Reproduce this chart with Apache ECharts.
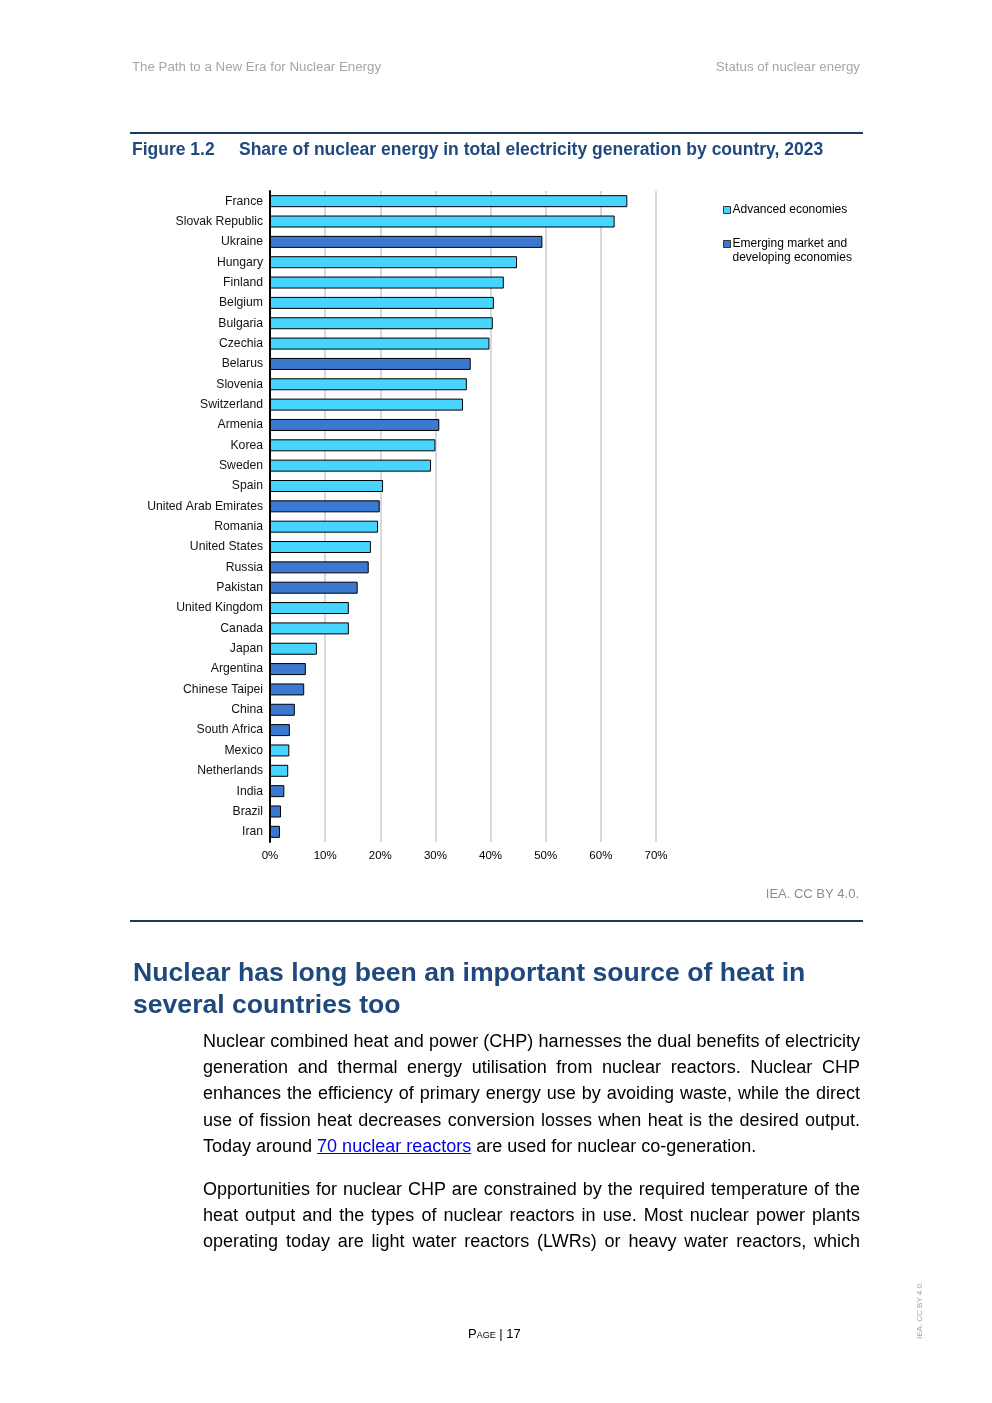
<!DOCTYPE html>
<html>
<head>
<meta charset="utf-8">
<script src="https://cdn.jsdelivr.net/npm/echarts@6/dist/echarts.min.js"></script>
<style>
  html, body { margin: 0; padding: 0; background: #fff; }
  #page { position: relative; width: 992px; height: 1403px; overflow: hidden; background: #fff; }
  #chart { position: absolute; left: 0; top: 0; width: 992px; height: 1403px; }
  .t { position: absolute; white-space: nowrap; font-family: 'Liberation Sans Narrow', 'Arial Narrow', 'Liberation Sans', Arial, sans-serif; }
  .hdr { top: 59px; font-size: 13.3px; color: #a6a6a6; }
  .rule { position: absolute; left: 130px; width: 733px; height: 2px; background: #1f3b5c; }
  .h2 { left: 133px; font-size: 26.6px; font-weight: bold; color: #1f497d; line-height: 32px; }
  .body { position: absolute; left: 203px; width: 657px; font-family: 'Liberation Sans Narrow', 'Arial Narrow', 'Liberation Sans', Arial, sans-serif; font-size: 18px; color: #000; line-height: 26.2px; }
  .body div { text-align: justify; text-align-last: justify; white-space: nowrap; height: 26.2px; }
  .body div.last { text-align-last: left; }
  .body a { color: #0000ee; text-decoration: underline; }
</style>
</head>
<body>
<div id="page">
  <div id="chart"></div>
  <div class="t hdr" style="left:132px;">The Path to a New Era for Nuclear Energy</div>
  <div class="t hdr" style="right:132px;">Status of nuclear energy</div>
  <div class="rule" style="top:132px;"></div>
  <div class="rule" style="top:920px;"></div>
  <div class="t h2" style="top:956px;">Nuclear has long been an important source of heat in</div>
  <div class="t h2" style="top:988px;">several countries too</div>
  <div class="body" style="top:1028px;">
    <div>Nuclear combined heat and power (CHP) harnesses the dual benefits of electricity</div>
    <div>generation and thermal energy utilisation from nuclear reactors. Nuclear CHP</div>
    <div>enhances the efficiency of primary energy use by avoiding waste, while the direct</div>
    <div>use of fission heat decreases conversion losses when heat is the desired output.</div>
    <div class="last">Today around <a href="#">70 nuclear reactors</a> are used for nuclear co-generation.</div>
  </div>
  <div class="body" style="top:1176px;">
    <div>Opportunities for nuclear CHP are constrained by the required temperature of the</div>
    <div>heat output and the types of nuclear reactors in use. Most nuclear power plants</div>
    <div>operating today are light water reactors (LWRs) or heavy water reactors, which</div>
  </div>
  <div class="t" style="left:468px; top:1326px; font-family:'Liberation Sans', Arial, sans-serif; font-size:13px; color:#000; font-variant: small-caps;">Page | 17</div>
  <div class="t" style="left:915px; top:1339px; font-family:'Liberation Sans', Arial, sans-serif; font-size:8px; color:#a0a0a0; transform-origin: 0 0; transform: rotate(-90deg);">IEA. CC BY 4.0.</div>
</div>
<script>
// ---- Data ----
const categories = ['France','Slovak Republic','Ukraine','Hungary','Finland','Belgium','Bulgaria','Czechia','Belarus','Slovenia','Switzerland','Armenia','Korea','Sweden','Spain','United Arab Emirates','Romania','United States','Russia','Pakistan','United Kingdom','Canada','Japan','Argentina','Chinese Taipei','China','South Africa','Mexico','Netherlands','India','Brazil','Iran'];
const shares = [64.8,62.5,49.4,44.8,42.4,40.6,40.4,39.8,36.4,35.7,35.0,30.7,30.0,29.2,20.5,19.9,19.6,18.3,17.9,15.9,14.3,14.3,8.5,6.5,6.2,4.5,3.6,3.5,3.3,2.6,2.0,1.8];
// A = Advanced economies, E = Emerging market and developing economies
const groups = ['A','A','E','A','A','A','A','A','E','A','A','E','A','A','A','E','A','A','E','E','A','A','A','E','E','E','E','A','A','E','E','E'];
const seriesNames = ['Advanced economies', 'Emerging market and developing economies'];
const xTicks = [0, 10, 20, 30, 40, 50, 60, 70];

const advData = shares.map((v, i) => groups[i] === 'A' ? v : '-');
const emdData = shares.map((v, i) => groups[i] === 'E' ? v : '-');

const chart = echarts.init(document.getElementById('chart'), null, { renderer: 'canvas' });
const labelFont = "'Liberation Sans', Arial, sans-serif";
chart.setOption({
  animation: false,
  title: {
    left: 132, top: 141, padding: 0,
    text: '{a|Figure 1.2}{b|Share of nuclear energy in total electricity generation by country, 2023}',
    textStyle: {
      rich: {
        a: { fontFamily: labelFont, fontSize: 17.5, fontWeight: 'bold', color: '#1f497d', width: 107 },
        b: { fontFamily: labelFont, fontSize: 17.5, fontWeight: 'bold', color: '#1f497d' }
      }
    }
  },
  legend: {
    orient: 'vertical',
    left: 723, top: 203, padding: 0,
    itemWidth: 7, itemHeight: 7,
    itemGap: 6,
    selectedMode: false,
    icon: 'rect',
    textStyle: { fontFamily: labelFont, fontSize: 12, color: '#000', lineHeight: 14, padding: [0, 0, 0, -3] },
    data: [
      { name: seriesNames[0], itemStyle: { borderColor: '#333', borderWidth: 1 } },
      { name: seriesNames[1], itemStyle: { borderColor: '#333', borderWidth: 1 } }
    ],
    formatter: function (n) { return n === seriesNames[1] ? ' \nEmerging market and\ndeveloping economies' : n; }
  },
  graphic: [
    { type: 'text', right: 133, top: 888, style: { text: 'IEA. CC BY 4.0.', fontFamily: labelFont, fontSize: 13, fill: '#8c8c8c' } }
  ],
  grid: { left: 270, top: 191, width: 386, height: 651, containLabel: false },
  xAxis: {
    type: 'value', min: 0, max: 70, interval: 10,
    axisLine: { show: false }, axisTick: { show: false },
    splitLine: { show: true, lineStyle: { color: '#d9d9d9', width: 2 } },
    axisLabel: { formatter: '{value}%', fontFamily: labelFont, fontSize: 11.5, color: '#000', margin: 8 }
  },
  yAxis: {
    type: 'category', data: categories, inverse: true,
    axisLine: { show: true, lineStyle: { color: '#000', width: 2 } },
    axisTick: { show: false },
    axisLabel: { fontFamily: labelFont, fontSize: 12.2, color: '#111', margin: 7 }
  },
  series: [
    { name: seriesNames[0], type: 'bar', data: advData, barWidth: 12, barGap: '-100%',
      itemStyle: { color: '#47d4ff', borderColor: '#000', borderWidth: 1 } },
    { name: seriesNames[1], type: 'bar', data: emdData, barWidth: 12, barGap: '-100%',
      itemStyle: { color: '#3b78d1', borderColor: '#000', borderWidth: 1 } }
  ]
});
</script>
</body>
</html>
